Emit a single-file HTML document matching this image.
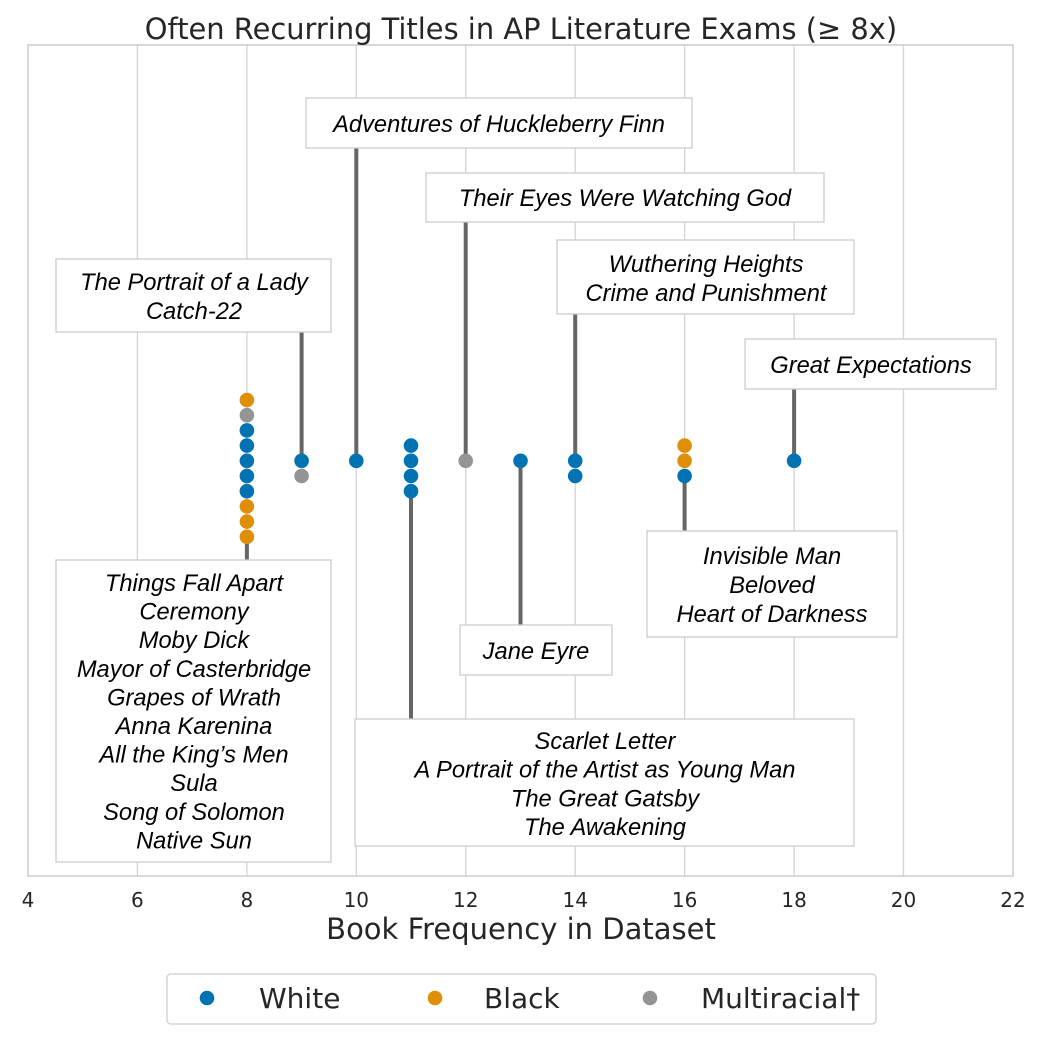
<!DOCTYPE html>
<html><head><meta charset="utf-8"><style>body{margin:0;background:#fff}</style></head><body>
<svg width="1042" height="1042" xmlns="http://www.w3.org/2000/svg" font-family="'DejaVu Sans',sans-serif">
<rect width="1042" height="1042" fill="#fff"/>
<g stroke="#d4d4d4" stroke-width="1.3">
<line x1="137.4" y1="45" x2="137.4" y2="876"/><line x1="246.9" y1="45" x2="246.9" y2="876"/>
<line x1="356.3" y1="45" x2="356.3" y2="876"/><line x1="465.7" y1="45" x2="465.7" y2="876"/>
<line x1="575.2" y1="45" x2="575.2" y2="876"/><line x1="684.6" y1="45" x2="684.6" y2="876"/>
<line x1="794.1" y1="45" x2="794.1" y2="876"/><line x1="903.5" y1="45" x2="903.5" y2="876"/>
</g>
<rect x="28" y="45" width="985" height="831" fill="none" stroke="#ccc" stroke-width="1.5"/>
<text x="521" y="39" text-anchor="middle" font-size="28.9" fill="#262626">Often Recurring Titles in AP Literature Exams (≥ 8x)</text>
<g font-size="20" fill="#262626" text-anchor="middle">
<text x="28" y="907">4</text><text x="137.4" y="907">6</text><text x="246.9" y="907">8</text><text x="356.3" y="907">10</text><text x="465.7" y="907">12</text><text x="575.2" y="907">14</text><text x="684.6" y="907">16</text><text x="794.1" y="907">18</text><text x="903.5" y="907">20</text><text x="1013" y="907">22</text>
</g>
<text x="521" y="939" text-anchor="middle" font-size="29" fill="#262626">Book Frequency in Dataset</text>
<g stroke="#666" stroke-width="4">
<line x1="246.9" y1="537" x2="246.9" y2="560"/>
<line x1="301.6" y1="461" x2="301.6" y2="332"/>
<line x1="356.3" y1="461" x2="356.3" y2="148"/>
<line x1="411" y1="491" x2="411" y2="719"/>
<line x1="465.7" y1="461" x2="465.7" y2="222"/>
<line x1="520.5" y1="461" x2="520.5" y2="625"/>
<line x1="575.2" y1="461" x2="575.2" y2="314"/>
<line x1="684.6" y1="476" x2="684.6" y2="531"/>
<line x1="794.1" y1="461" x2="794.1" y2="389"/>
</g>
<g>
<circle cx="246.9" cy="400" r="7.3" fill="#de8f05"/><circle cx="246.9" cy="415.2" r="7.3" fill="#949494"/>
<circle cx="246.9" cy="430.4" r="7.3" fill="#0173b2"/><circle cx="246.9" cy="445.6" r="7.3" fill="#0173b2"/>
<circle cx="246.9" cy="460.8" r="7.3" fill="#0173b2"/><circle cx="246.9" cy="476" r="7.3" fill="#0173b2"/>
<circle cx="246.9" cy="491.2" r="7.3" fill="#0173b2"/><circle cx="246.9" cy="506.4" r="7.3" fill="#de8f05"/>
<circle cx="246.9" cy="521.6" r="7.3" fill="#de8f05"/><circle cx="246.9" cy="536.8" r="7.3" fill="#de8f05"/>
<circle cx="301.6" cy="460.8" r="7.3" fill="#0173b2"/><circle cx="301.6" cy="476" r="7.3" fill="#949494"/>
<circle cx="356.3" cy="460.8" r="7.3" fill="#0173b2"/>
<circle cx="411" cy="445.6" r="7.3" fill="#0173b2"/><circle cx="411" cy="460.8" r="7.3" fill="#0173b2"/>
<circle cx="411" cy="476" r="7.3" fill="#0173b2"/><circle cx="411" cy="491.2" r="7.3" fill="#0173b2"/>
<circle cx="465.7" cy="460.8" r="7.3" fill="#949494"/>
<circle cx="520.5" cy="460.8" r="7.3" fill="#0173b2"/>
<circle cx="575.2" cy="460.8" r="7.3" fill="#0173b2"/><circle cx="575.2" cy="476" r="7.3" fill="#0173b2"/>
<circle cx="684.6" cy="445.6" r="7.3" fill="#de8f05"/><circle cx="684.6" cy="460.8" r="7.3" fill="#de8f05"/>
<circle cx="684.6" cy="476" r="7.3" fill="#0173b2"/>
<circle cx="794.1" cy="460.8" r="7.3" fill="#0173b2"/>
</g>
<g fill="#fff" stroke="#ccc" stroke-width="1.3">
<rect x="306" y="98" width="386" height="50"/>
<rect x="426" y="173" width="398" height="49"/>
<rect x="557" y="240" width="297" height="74"/>
<rect x="56" y="259" width="275" height="73"/>
<rect x="745" y="339" width="251" height="50"/>
<rect x="56" y="560" width="275" height="302"/>
<rect x="647" y="531" width="250" height="106"/>
<rect x="460" y="625" width="152" height="50"/>
<rect x="355" y="719" width="499" height="127"/>
</g>
<g font-family="'Liberation Sans',Arial,sans-serif" font-style="italic" font-size="23.7" fill="#000" text-anchor="middle">
<text x="499" y="132">Adventures of Huckleberry Finn</text>
<text x="625" y="206">Their Eyes Were Watching God</text>
<text x="706" y="272">Wuthering Heights</text><text x="706" y="301">Crime and Punishment</text>
<text x="194" y="290">The Portrait of a Lady</text><text x="194" y="319">Catch-22</text>
<text x="871" y="373">Great Expectations</text>
<text x="194" y="591">Things Fall Apart</text><text x="194" y="619.6">Ceremony</text>
<text x="194" y="648.2">Moby Dick</text><text x="194" y="676.8">Mayor of Casterbridge</text>
<text x="194" y="705.4">Grapes of Wrath</text><text x="194" y="734">Anna Karenina</text>
<text x="194" y="762.6">All the King’s Men</text><text x="194" y="791.2">Sula</text>
<text x="194" y="819.8">Song of Solomon</text><text x="194" y="848.4">Native Sun</text>
<text x="772" y="564">Invisible Man</text><text x="772" y="593">Beloved</text><text x="772" y="622">Heart of Darkness</text>
<text x="536" y="659">Jane Eyre</text>
<text x="605" y="749">Scarlet Letter</text><text x="605" y="777.7">A Portrait of the Artist as Young Man</text>
<text x="605" y="806.4">The Great Gatsby</text><text x="605" y="835.1">The Awakening</text>
</g>
<rect x="167" y="974" width="709" height="50" rx="4" fill="#fff" stroke="#ccc" stroke-width="1.3"/>
<circle cx="207" cy="998" r="7.3" fill="#0173b2"/><circle cx="435" cy="998" r="7.3" fill="#de8f05"/><circle cx="650" cy="998" r="7.3" fill="#949494"/>
<g font-size="28" fill="#262626"><text x="259" y="1008">White</text><text x="484" y="1008">Black</text><text x="701" y="1008">Multiracial†</text></g>
</svg>
</body></html>
